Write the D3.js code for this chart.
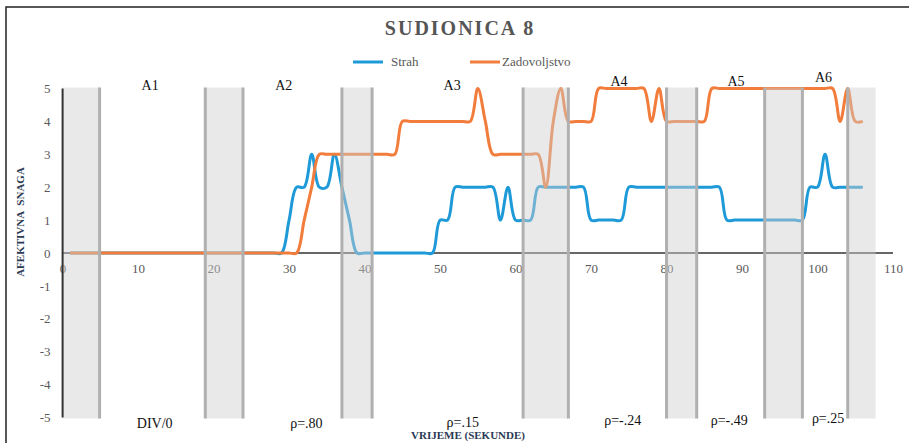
<!DOCTYPE html>
<html>
<head>
<meta charset="utf-8">
<script src="https://cdn.jsdelivr.net/npm/d3@7"></script>
<style>
    body { margin: 0; background: #fff; }
    svg text { font-family: "Liberation Serif", "DejaVu Serif", serif !important; }
</style>
</head>
<body>
<div id="chart"></div>
<script>
// seconds 1..106
const seconds = d3.range(1, 107);

const strah = [
    0, 0, 0, 0, 0, 0, 0, 0, 0, 0,   // 1-10
    0, 0, 0, 0, 0, 0, 0, 0, 0, 0,   // 11-20
    0, 0, 0, 0, 0, 0, 0, 0, 0, 1,   // 21-30
    2, 2, 3, 2, 2, 3, 2, 1, 0, 0,   // 31-40
    0, 0, 0, 0, 0, 0, 0, 0, 0, 1,   // 41-50
    1, 2, 2, 2, 2, 2, 2, 1, 2, 1,   // 51-60
    1, 1, 2, 2, 2, 2, 2, 2, 2, 1,   // 61-70
    1, 1, 1, 1, 2, 2, 2, 2, 2, 2,   // 71-80
    2, 2, 2, 2, 2, 2, 2, 1, 1, 1,   // 81-90
    1, 1, 1, 1, 1, 1, 1, 1, 2, 2,   // 91-100
    3, 2, 2, 2, 2, 2                // 101-106
];

const zadovoljstvo = [
    0, 0, 0, 0, 0, 0, 0, 0, 0, 0,   // 1-10
    0, 0, 0, 0, 0, 0, 0, 0, 0, 0,   // 11-20
    0, 0, 0, 0, 0, 0, 0, 0, 0, 0,   // 21-30
    0, 1, 2, 3, 3, 3, 3, 3, 3, 3,   // 31-40
    3, 3, 3, 3, 4, 4, 4, 4, 4, 4,   // 41-50
    4, 4, 4, 4, 5, 4, 3, 3, 3, 3,   // 51-60
    3, 3, 3, 2, 4, 5, 4, 4, 4, 4,   // 61-70
    5, 5, 5, 5, 5, 5, 5, 4, 5, 4,   // 71-80
    4, 4, 4, 4, 4, 5, 5, 5, 5, 5,   // 81-90
    5, 5, 5, 5, 5, 5, 5, 5, 5, 5,   // 91-100
    5, 5, 4, 5, 4, 4                // 101-106
];

// shaded intervals (seconds)
const bandStart = [0, 18.9, 37, 61, 80, 93, 104];
const bandEnd = [4.9, 23.9, 41, 67, 84, 98, 107.7];

const areaNames = ["A1", "A2", "A3", "A4", "A5", "A6"];
const areaTime = [11.6, 29.3, 51.6, 73.7, 89.2, 100.8];
const rhoLabels = ["DIV/0", "\u03c1=.80", "\u03c1=.15", "\u03c1=-.24", "\u03c1=-.49", "\u03c1=.25"];
const rhoTime = [12.2, 32.3, 53, 74.2, 88.3, 101.4];

const xTicks = d3.range(0, 111, 10);
const yTicks = d3.range(-5, 6, 1);

const width = 909, height = 443;
const blue = "#1f9ad8", orange = "#f27c3b";
const serif = "Liberation Serif, DejaVu Serif, serif";

const x = d3.scaleLinear().domain([0, 110]).range([62.6, 893]);
const y = d3.scaleLinear().domain([-5, 5]).range([417.5, 88.5]);

let svg = d3.select("#chart")
    .append("svg")
    .attr("width", width)
    .attr("height", height)
    .attr("font-family", serif);

// outer frame
svg.append("rect")
    .attr("x", 6).attr("y", 7)
    .attr("width", 940).attr("height", 460)
    .attr("fill", "none")
    .attr("stroke", "#222")
    .attr("stroke-width", 1.5);

svg.append("text")
    .attr("x", 460).attr("y", 35)
    .attr("text-anchor", "middle")
    .attr("font-size", 20)
    .attr("font-weight", "bold")
    .attr("letter-spacing", 2)
    .attr("fill", "#555")
    .text("SUDIONICA 8");

// legend
const legend = [
    {name: "Strah", color: blue, x0: 353},
    {name: "Zadovoljstvo", color: orange, x0: 470}
];
const lg = svg.selectAll(".legend")
    .data(legend)
    .enter()
    .append("g")
    .attr("class", "legend");
lg.append("line")
    .attr("x1", d => d.x0).attr("x2", d => d.x0 + 30)
    .attr("y1", 62).attr("y2", 62)
    .attr("stroke", d => d.color)
    .attr("stroke-width", 3);
lg.append("text")
    .attr("x", d => d.x0 + (d.name === "Strah" ? 38 : 32))
    .attr("y", 66)
    .attr("font-size", 13)
    .attr("fill", "#595959")
    .text(d => d.name);

// axes
const xAxis = svg.append("g")
    .attr("transform", "translate(0," + y(0) + ")")
    .call(d3.axisBottom(x).tickValues(xTicks).tickSize(0).tickPadding(11).tickFormat(d => String(d)));
xAxis.select(".domain").remove();
xAxis.attr("font-family", serif);
xAxis.selectAll("text")
    .attr("font-size", 13)
    .attr("fill", "#595959");

const yAxis = svg.append("g")
    .attr("transform", "translate(" + x(0) + ",0)")
    .call(d3.axisLeft(y).tickValues(yTicks).tickSize(0).tickPadding(12).tickFormat(d => String(d)));
yAxis.select(".domain").remove();
yAxis.attr("font-family", serif);
yAxis.selectAll("text")
    .attr("font-size", 13)
    .attr("fill", "#595959");

svg.append("line")
    .attr("x1", x(0)).attr("x2", x(110))
    .attr("y1", y(0)).attr("y2", y(0))
    .attr("stroke", "#333")
    .attr("stroke-width", 1.5);

// series
const line = d3.line()
    .x((d, i) => x(seconds[i]))
    .y(d => y(d))
    .curve(d3.curveCatmullRom.alpha(0.5));

svg.append("path")
    .datum(strah)
    .attr("d", line)
    .attr("fill", "none")
    .attr("stroke", blue)
    .attr("stroke-width", 3);

svg.append("path")
    .datum(zadovoljstvo)
    .attr("d", line)
    .attr("fill", "none")
    .attr("stroke", orange)
    .attr("stroke-width", 3);

// shaded intervals over the lines
const bands = svg.selectAll(".band")
    .data(bandStart.map((s, i) => ({s: s, e: bandEnd[i], i: i})))
    .enter()
    .append("g")
    .attr("class", "band");
bands.append("rect")
    .attr("x", d => x(d.s))
    .attr("y", y(5) - 1)
    .attr("width", d => x(d.e) - x(d.s))
    .attr("height", y(-5) - y(5) + 2)
    .attr("fill", "#cfcfcf")
    .attr("opacity", 0.45);
bands.filter(d => d.s > 0).append("line")
    .attr("x1", d => x(d.s)).attr("x2", d => x(d.s))
    .attr("y1", y(5) - 1).attr("y2", y(-5) + 1)
    .attr("stroke", "#b0b0b0")
    .attr("stroke-width", 3);
bands.filter(d => d.i < bandStart.length - 1).append("line")
    .attr("x1", d => x(d.e)).attr("x2", d => x(d.e))
    .attr("y1", y(5) - 1).attr("y2", y(-5) + 1)
    .attr("stroke", "#b0b0b0")
    .attr("stroke-width", 3);

// y axis line
svg.append("line")
    .attr("x1", x(0)).attr("x2", x(0))
    .attr("y1", y(5)).attr("y2", y(-5))
    .attr("stroke", "#333")
    .attr("stroke-width", 2);

// area labels
const areaY = [85, 85, 85, 81, 81, 77];
svg.selectAll(".area-label")
    .data(areaNames)
    .enter()
    .append("text")
    .attr("class", "area-label")
    .attr("x", (d, i) => x(areaTime[i]))
    .attr("y", (d, i) => areaY[i] + 5)
    .attr("text-anchor", "middle")
    .attr("font-size", 14)
    .attr("fill", "#111")
    .text(d => d);

const rhoY = [423, 423, 422, 420, 420, 418];
svg.selectAll(".rho-label")
    .data(rhoLabels)
    .enter()
    .append("text")
    .attr("class", "rho-label")
    .attr("x", (d, i) => x(rhoTime[i]))
    .attr("y", (d, i) => rhoY[i] + 5)
    .attr("text-anchor", "middle")
    .attr("font-size", 14)
    .attr("fill", "#111")
    .text(d => d);

// axis titles
svg.append("text")
    .attr("x", 468).attr("y", 439)
    .attr("text-anchor", "middle")
    .attr("font-size", 11)
    .attr("font-weight", "bold")
    .attr("fill", "#2b3a55")
    .text("VRIJEME (SEKUNDE)");

svg.append("text")
    .attr("transform", "translate(24,222) rotate(-90)")
    .attr("text-anchor", "middle")
    .attr("font-size", 11)
    .attr("font-weight", "bold")
    .attr("fill", "#2b3a55")
    .attr("word-spacing", 3)
    .text("AFEKTIVNA SNAGA");
</script>
</body>
</html>
